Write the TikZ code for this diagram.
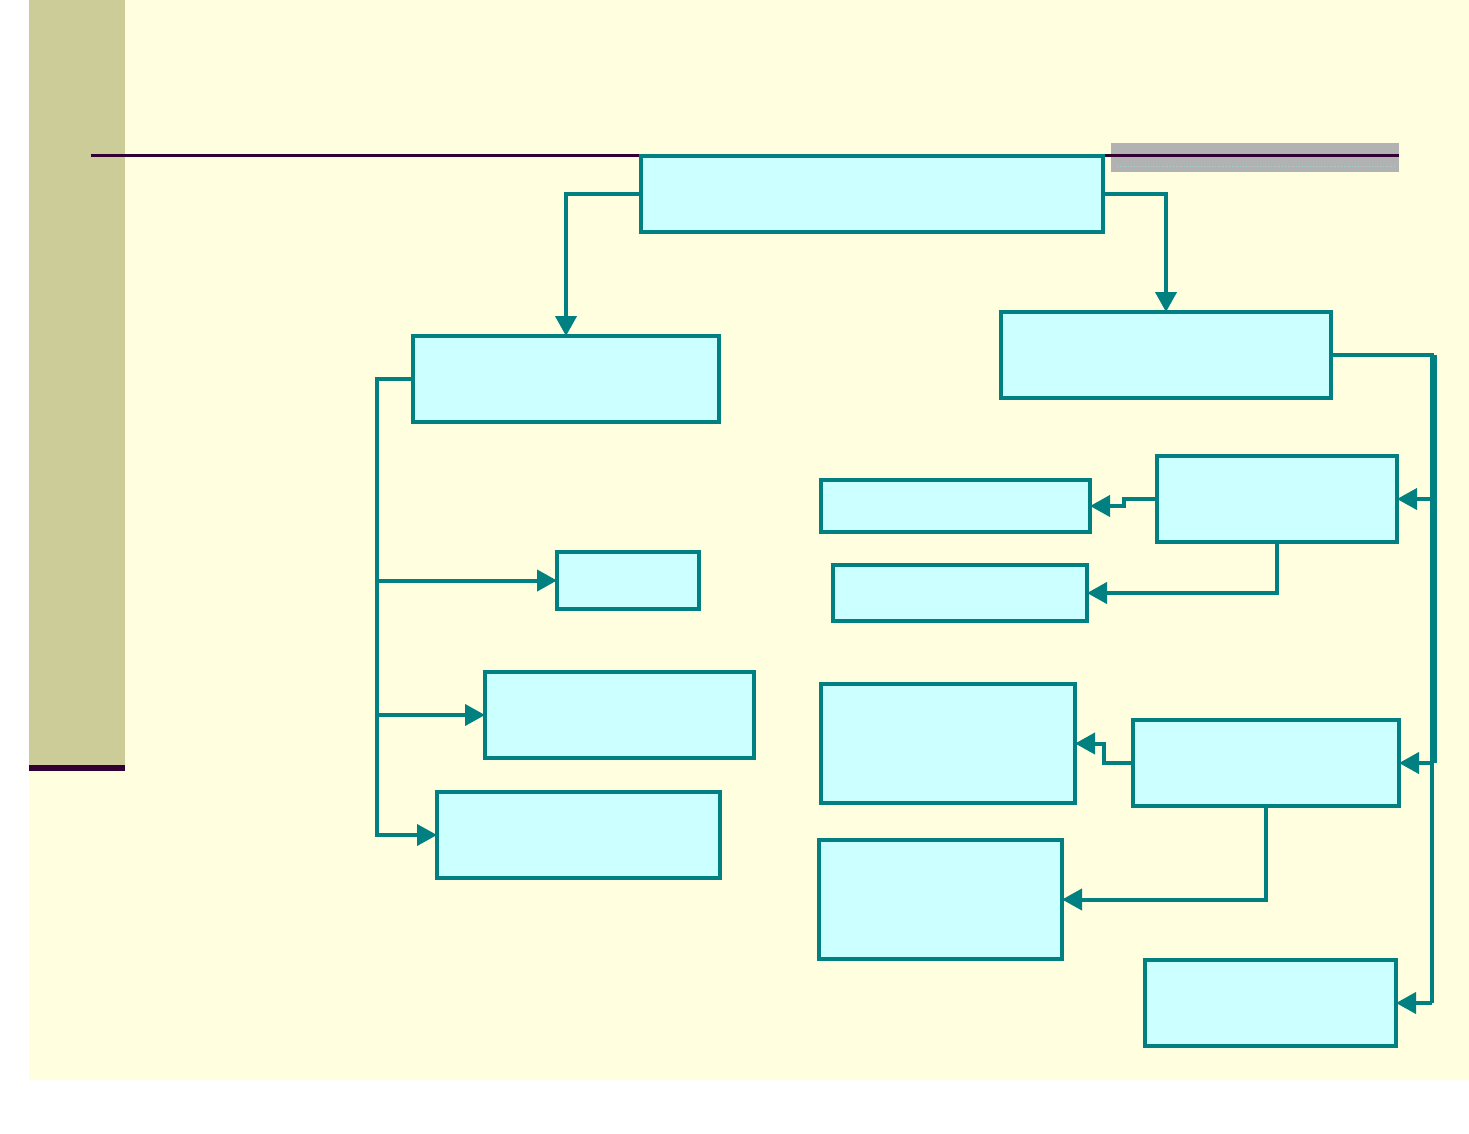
\documentclass[tikz,border=0pt]{standalone}
\usetikzlibrary{arrows.meta}
\definecolor{bgyellow}{HTML}{FFFFE0}
\definecolor{olive}{HTML}{CCCC99}
\definecolor{darkplum}{HTML}{330033}
\definecolor{teal}{HTML}{008080}
\definecolor{boxfill}{HTML}{CCFFFF}
\definecolor{barGray}{HTML}{B2B2B2}
\tikzset{
  box/.style={draw=teal, fill=boxfill, line width=4pt, inner sep=0pt, outer sep=0pt},
  conn/.style={draw=teal, line width=4pt, -{Triangle[length=20pt,width=21pt]}},
  plain/.style={draw=teal, line width=4pt},
}
\begin{document}
\begin{tikzpicture}[x=1pt,y=-1pt]
\useasboundingbox (0,0) rectangle (1469,1133);
% background
\fill[white] (0,0) rectangle (1469,1133);
\fill[bgyellow] (29,0) rectangle (1469,1080);
\fill[olive] (29,0) rectangle (125,765);
\fill[darkplum] (29,765) rectangle (125,771);
% title rule and gray bar
\fill[barGray] (1111,143) rectangle (1399,172);
\draw[boxfill!70!teal, line width=0.8pt, dotted] (1117,166) -- (1396,166);
\draw[darkplum, line width=3pt] (91,155) -- (1399,155);
% boxes
\node[box, minimum width=462, minimum height=76] (top) at (872,194) {};
\node[box, minimum width=306, minimum height=86] (L1) at (566,379) {};
\node[box, minimum width=330, minimum height=86] (R1) at (1166,355) {};
\node[box, minimum width=142, minimum height=57] (S) at (628,580.5) {};
\node[box, minimum width=269, minimum height=86] (L2) at (619.5,715) {};
\node[box, minimum width=283, minimum height=86] (L3) at (578.5,835) {};
\node[box, minimum width=269, minimum height=52] (Ra) at (955.5,506) {};
\node[box, minimum width=240, minimum height=86] (Rb) at (1277,499) {};
\node[box, minimum width=254, minimum height=56] (Rc) at (960,593) {};
\node[box, minimum width=254, minimum height=119] (Rd) at (948,743.5) {};
\node[box, minimum width=266, minimum height=86] (Re) at (1266,763) {};
\node[box, minimum width=243, minimum height=119] (Rf) at (940.5,899.5) {};
\node[box, minimum width=251, minimum height=86] (Rg) at (1270.5,1003) {};
% bus coordinates
\coordinate (lbus) at (377,379);
\coordinate (rbusTop) at (1433.5,355);
\coordinate (rbusMid) at (1433.5,763);
\coordinate (rbusBot) at (1432,1003);
% top connectors
\draw[conn] (top.west) -| (L1.north);
\draw[conn] (top.east) -| (R1.north);
% left bus
\draw[plain] (L1.west) -- (lbus) -- (377,835);
\draw[conn] (377,580.5) -- (S.west);
\draw[conn] (377,715) -- (L2.west);
\draw[conn] (375,835) -- (L3.west);
% right bus
\draw[plain] (R1.east) -- (rbusTop);
\draw[teal, line width=7pt] (rbusTop) -- (rbusMid);
\draw[plain] (1432,763) -- (rbusBot);
\draw[conn] (1432,499) -- (Rb.east);
\draw[conn] (1432,763) -- (Re.east);
\draw[conn] (rbusBot) -- (Rg.east);
% Rb children
\draw[conn] (Rb.west) -- (1123.5,499) -- (1123.5,506) -- (Ra.east);
\draw[conn] (Rb.south) |- (Rc.east);
% Re children
\draw[conn] (Re.west) -- (1103.5,763) -- (1103.5,743.5) -- (Rd.east);
\draw[conn] (Re.south) |- (Rf.east);
\end{tikzpicture}
\end{document}
